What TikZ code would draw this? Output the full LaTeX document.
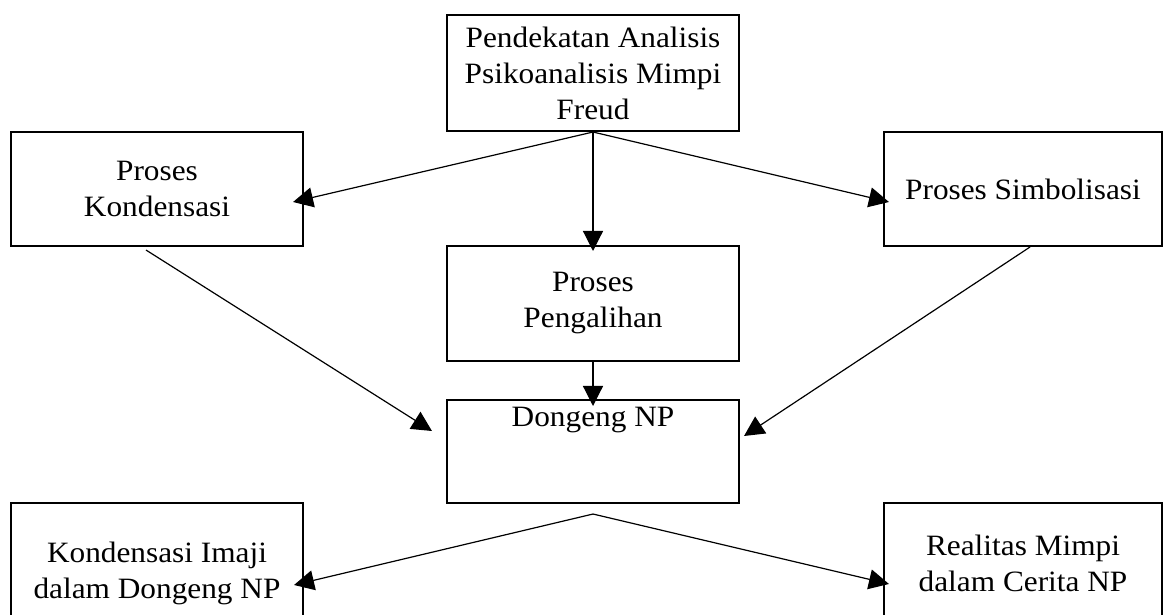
\documentclass[tikz,border=0pt]{standalone}
\usepackage{fontspec}
\setmainfont{Liberation Serif}[FakeStretch=1.06]
\usetikzlibrary{arrows.meta}

\tikzset{
  box/.style={draw, line width=0.05cm, minimum width=7.3cm, align=center, inner sep=0pt},
  arr/.style={line width=0.03cm, -{Triangle[length=0.5cm,width=0.5cm]}},
}

\begin{document}
\begin{tikzpicture}[x=0.025cm, y=-0.025cm, font=\fontsize{21}{25.6}\selectfont]

        \useasboundingbox (0,0) rectangle (1164,614);
        \clip (0,0) rectangle (1164,614);

        \node[box, minimum height=2.9cm] (freud) at (593,73) {Pendekatan Analisis\\Psikoanalisis Mimpi\\Freud};
        \node[box, minimum height=2.85cm] (kond) at (157,189) {Proses\\Kondensasi};
        \node[box, minimum height=2.85cm, minimum width=6.95cm] (simb) at (1023,189) {Proses Simbolisasi};
        \node[box, minimum height=2.875cm] (peng) at (593,303.5) {Proses\\Pengalihan};
        \node[box, minimum height=2.575cm, label={[anchor=north, yshift=-0.08cm]north:Dongeng NP}] (dong) at (593,451.5) {};
        \node[box, minimum height=3.5cm] (imaji) at (157,573) {Kondensasi Imaji\\dalam Dongeng NP};
        \node[box, minimum height=3cm, minimum width=6.95cm] (realitas) at (1023,563) {Realitas Mimpi\\dalam Cerita NP};

        \draw[arr] (freud.south) -- ([shift={(-11,13)}]kond.east);
        \draw[arr] (freud.south) -- ([shift={(6,13)}]simb.west);
        \draw[arr] (freud.south) -- ([shift={(0,6)}]peng.north);
        \draw[arr] (peng.south) -- ([shift={(0,7)}]dong.north);
        \draw[arr] ([shift={(-11,3)}]kond.south) -- ([shift={(-14,32)}]dong.north west);
        \draw[arr] ([shift={(7,0)}]simb.south) -- ([shift={(4,37)}]dong.north east);
        \draw[arr] ([shift={(0,10)}]dong.south) -- ([shift={(-10,83)}]imaji.north east);
        \draw[arr] ([shift={(0,10)}]dong.south) -- ([shift={(6,82)}]realitas.north west);

\end{tikzpicture}
\end{document}
